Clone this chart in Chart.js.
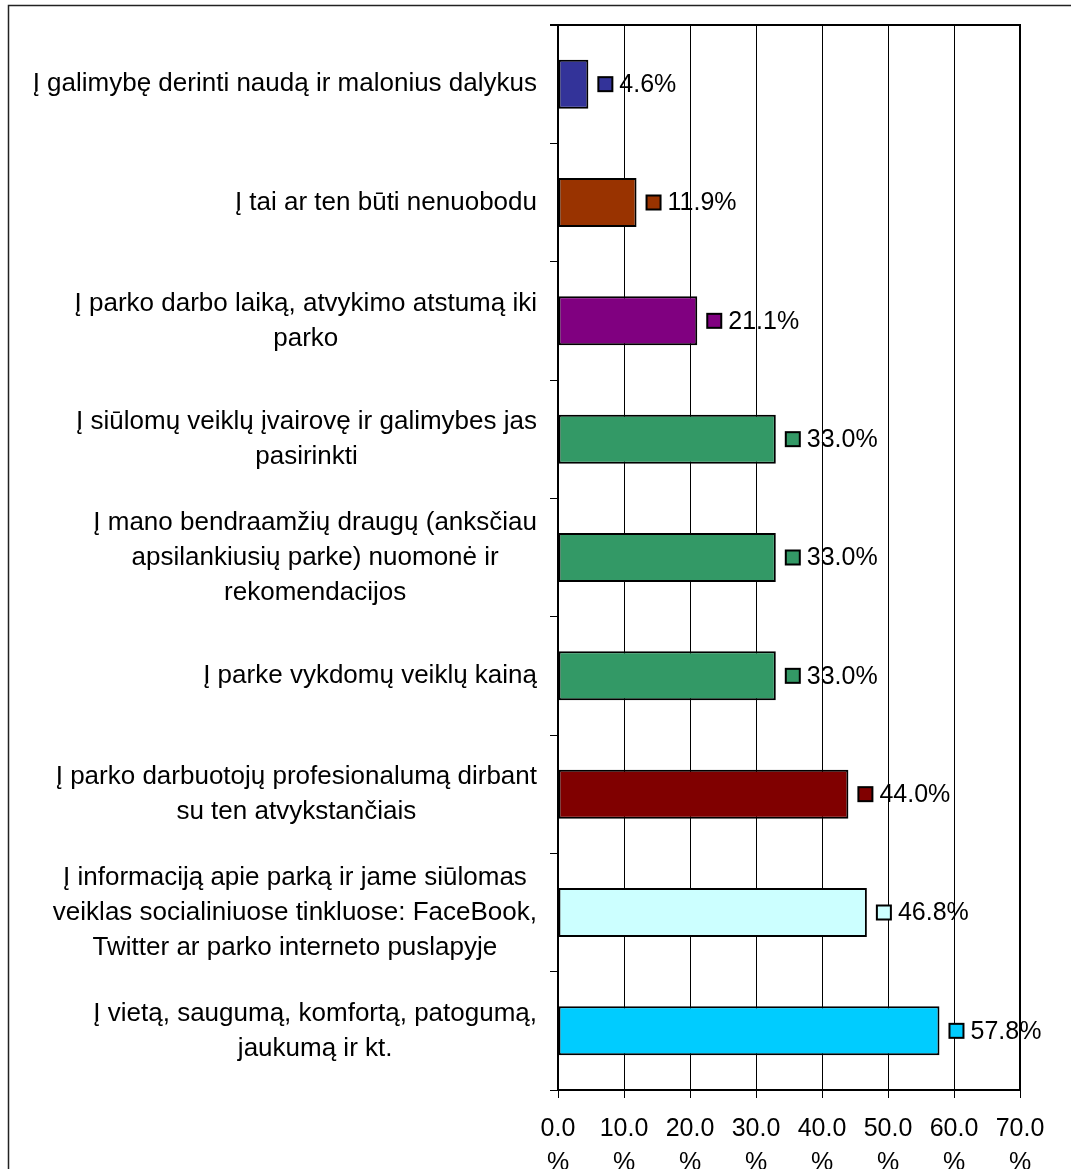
<!DOCTYPE html>
<html>
<head>
<meta charset="utf-8">
<script src="https://cdn.jsdelivr.net/npm/chart.js@4/dist/chart.umd.min.js"></script>
<style>
html,body{margin:0;padding:0;background:#fff;}
canvas{display:block;}
</style>
</head>
<body>
<canvas id="c" width="1071" height="1169"></canvas>
<script>
const categories = [
  ["Į galimybę derinti naudą ir malonius dalykus"],
  ["Į tai ar ten būti nenuobodu"],
  ["Į parko darbo laiką, atvykimo atstumą iki", "parko"],
  ["Į siūlomų veiklų įvairovę ir galimybes jas", "pasirinkti"],
  ["Į mano bendraamžių draugų (anksčiau", "apsilankiusių parke) nuomonė ir", "rekomendacijos"],
  ["Į parke vykdomų veiklų kainą"],
  ["Į parko darbuotojų profesionalumą dirbant", "su ten atvykstančiais"],
  ["Į informaciją apie parką ir jame siūlomas", "veiklas socialiniuose tinkluose: FaceBook,", "Twitter ar parko interneto puslapyje"],
  ["Į vietą, saugumą, komfortą, patogumą,", "jaukumą ir kt."]
];
const values = [4.6, 11.9, 21.1, 33.0, 33.0, 33.0, 44.0, 46.8, 57.8];
const barColors = ["#333399", "#993300", "#800080", "#339966", "#339966", "#339966", "#800000", "#CCFFFF", "#00CCFF"];
const xMin = 0, xMax = 70, xStep = 10;
const tickSuffix = "%";

const FONT = "'Liberation Sans', Arial, sans-serif";

const framePlugin = {
  id: 'frame',
  afterDraw(chart) {
    const ctx = chart.ctx, a = chart.chartArea;
    ctx.save();
    ctx.strokeStyle = '#222';
    ctx.lineWidth = 1.5;
    ctx.strokeRect(8.5, 5.5, 3000, 3000);
    ctx.strokeStyle = '#000';
    ctx.lineWidth = 2;
    ctx.beginPath();
    ctx.moveTo(a.left - 8, Math.round(a.top));
    ctx.lineTo(Math.round(a.right), Math.round(a.top));
    ctx.lineTo(Math.round(a.right), a.bottom);
    ctx.stroke();
    ctx.restore();
  }
};

const catLabelPlugin = {
  id: 'catLabels',
  afterDraw(chart) {
    const ctx = chart.ctx, ys = chart.scales.y;
    const rightEdge = 537, lineH = 35;
    ctx.save();
    ctx.font = '26px ' + FONT;
    ctx.fillStyle = '#000';
    ctx.textAlign = 'center';
    ctx.textBaseline = 'middle';
    categories.forEach((lines, i) => {
      const yc = ys.getPixelForValue(i);
      let w = 0;
      lines.forEach(l => { w = Math.max(w, ctx.measureText(l).width); });
      const cx = rightEdge - w / 2;
      const y0 = yc - (lines.length - 1) * lineH / 2;
      lines.forEach((l, k) => ctx.fillText(l, cx, y0 + k * lineH));
    });
    ctx.restore();
  }
};

const valueLabelPlugin = {
  id: 'valueLabels',
  afterDatasetsDraw(chart) {
    const ctx = chart.ctx;
    const meta = chart.getDatasetMeta(0);
    ctx.save();
    ctx.font = '25px ' + FONT;
    ctx.textAlign = 'left';
    ctx.textBaseline = 'middle';
    meta.data.forEach((bar, i) => {
      const x = bar.x, y = bar.y;
      ctx.fillStyle = barColors[i];
      ctx.strokeStyle = '#000';
      ctx.lineWidth = 2;
      ctx.fillRect(x + 10, y - 7, 14, 14);
      ctx.strokeRect(x + 10, y - 7, 14, 14);
      ctx.fillStyle = '#000';
      ctx.fillText(values[i].toFixed(1) + '%', x + 31, y + 1);
    });
    ctx.restore();
  }
};

new Chart(document.getElementById('c'), {
  type: 'bar',
  data: {
    labels: categories,
    datasets: [{
      data: values,
      backgroundColor: barColors,
      borderColor: '#000',
      borderWidth: 2,
      borderSkipped: false,
      barPercentage: 0.414,
      categoryPercentage: 1
    }]
  },
  options: {
    indexAxis: 'y',
    responsive: false,
    animation: false,
    devicePixelRatio: 1,
    layout: { padding: { top: 25, right: 51, left: 0, bottom: 0 } },
    plugins: { legend: { display: false }, tooltip: { enabled: false } },
    scales: {
      x: {
        min: xMin, max: xMax,
        ticks: {
          stepSize: xStep,
          autoSkip: false,
          maxRotation: 0,
          color: '#000',
          padding: 14,
          font: { family: FONT, size: 25, lineHeight: 1.35 },
          callback: v => [Number(v).toFixed(1), tickSuffix]
        },
        grid: { color: '#000', lineWidth: 1, tickLength: 8 },
        border: { color: '#000', width: 2 },
        afterFit: s => { s.height = 79; }
      },
      y: {
        ticks: { display: false },
        grid: { drawOnChartArea: false, color: '#000', tickLength: 8, offset: true },
        border: { color: '#000', width: 2 },
        afterFit: s => { s.width = 558; }
      }
    }
  },
  plugins: [framePlugin, catLabelPlugin, valueLabelPlugin]
});
</script>
</body>
</html>
